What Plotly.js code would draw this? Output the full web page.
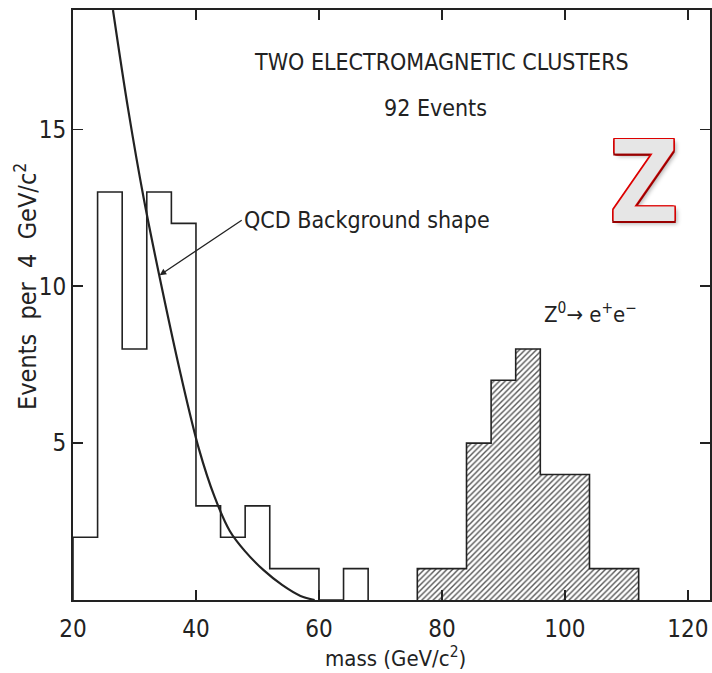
<!DOCTYPE html>
<html><head><meta charset="utf-8">
<script src="https://cdn.plot.ly/plotly-3.0.1.min.js"></script>
<style>html,body{margin:0;padding:0;background:#fff}#chart{width:712px;height:673px}</style>
</head><body><div id="chart"></div>
<script>
// ---- data ----
const binWidth = 4; // GeV/c^2
const bgBinLow = [20, 24, 28, 32, 36, 40, 44, 48, 52, 56, 60, 64];
const bgCounts = [2, 13, 8, 13, 12, 3, 2, 3, 1, 1, 0, 1];
const zBinLow = [76, 80, 84, 88, 92, 96, 100, 104, 108];
const zCounts = [1, 1, 5, 7, 8, 4, 4, 1, 1];
const qcdMass = [26.5, 29, 31.5, 34.5, 37.5, 40.5, 43, 45.5, 48, 51, 54, 57, 59.3];
const qcdEvents = [18.8, 15.6, 12.8, 9.9, 7.2, 4.8, 3.3, 2.2, 1.55, 0.95, 0.48, 0.13, 0];
const xTicks = [20, 40, 60, 80, 100, 120];
const yTicks = [5, 10, 15];

function stepOutline(lows, counts) {
  const x = [lows[0]], y = [0];
  lows.forEach((l, i) => { x.push(l); y.push(counts[i]); });
  x.push(lows[lows.length - 1] + binWidth); y.push(0);
  return {x, y};
}
const bg = stepOutline(bgBinLow, bgCounts);
const zz = stepOutline(zBinLow, zCounts);

const narrow = "DejaVu Sans Condensed, DejaVu Sans, sans-serif";
const ink = "#222";
const nb = "\u00a0";

const traces = [
  {x: bg.x, y: bg.y, type: "scatter", mode: "lines", line: {shape: "hv", color: ink, width: 1.6}, hoverinfo: "skip"},
  {x: zz.x, y: zz.y, type: "scatter", mode: "lines", fill: "tozeroy", fillcolor: "rgba(0,0,0,0)",
   fillpattern: {shape: "/", fgcolor: "#555", bgcolor: "#fff", size: 4, solidity: 0.35, fillmode: "replace"},
   line: {shape: "hv", color: ink, width: 1.6}, hoverinfo: "skip"},
  {x: qcdMass, y: qcdEvents, type: "scatter", mode: "lines", line: {shape: "spline", smoothing: 1, color: ink, width: 2.2}, hoverinfo: "skip"}
];

const layout = {
  width: 712, height: 673,
  margin: {l: 73, r: 2, t: 10, b: 73},
  paper_bgcolor: "#fff", plot_bgcolor: "#fff",
  showlegend: false,
  font: {family: narrow, color: ink, size: 22},
  xaxis: {
    range: [20, 123.6], tickvals: xTicks, ticktext: xTicks.map(String),
    ticks: "inside", ticklen: 10, tickwidth: 1.5, tickcolor: ink,
    showline: true, linecolor: ink, linewidth: 2, mirror: "ticks",
    showgrid: false, zeroline: false, ticklabelstandoff: 6,
    tickfont: {family: narrow, size: 24, color: ink}
  },
  yaxis: {
    range: [0, 18.8], tickvals: yTicks, ticktext: yTicks.map(String),
    ticks: "inside", ticklen: 10, tickwidth: 1.5, tickcolor: ink,
    showline: true, linecolor: ink, linewidth: 2, mirror: "ticks",
    showgrid: false, zeroline: false,
    tickfont: {family: narrow, size: 24, color: ink}
  },
  annotations: [
    {x: -0.074, y: 0.532, xref: "paper", yref: "paper", xanchor: "center", yanchor: "middle",
     textangle: -90, showarrow: false,
     text: "Events" + nb + nb + "per" + nb + nb + "4" + nb + nb + "GeV/c<sup>2</sup>",
     font: {family: narrow, size: 25, color: ink}},
    {x: 0.507, y: -0.097, xref: "paper", yref: "paper", xanchor: "center", yanchor: "middle",
     showarrow: false, text: "mass (GeV/c<sup>2</sup>)",
     font: {family: narrow, size: 22, color: ink}},
    {x: 80.0, y: 17.13, xref: "x", yref: "y", text: "TWO ELECTROMAGNETIC CLUSTERS", showarrow: false,
     font: {family: narrow, size: 23, color: ink}},
    {x: 78.9, y: 15.67, xref: "x", yref: "y", text: "92 Events", showarrow: false,
     font: {family: narrow, size: 23, color: ink}},
    {x: 34.1, y: 10.35, xref: "x", yref: "y", ax: 82, ay: -55, text: "QCD Background shape", xanchor: "left",
     showarrow: true, arrowhead: 2, arrowsize: 1, arrowwidth: 1.3, arrowcolor: ink,
     font: {family: narrow, size: 23, color: ink}},
    {x: 104.1, y: 9.14, xref: "x", yref: "y", text: "Z<sup>0</sup>\u2192 e<sup>+</sup>e<sup>\u2212</sup>", showarrow: false,
     font: {family: narrow, size: 22, color: ink}},
    {x: 112.8, y: 13.5, xref: "x", yref: "y", text: "<b>Z</b>", showarrow: false,
     font: {family: "Open Sans", size: 114, weight: 700, color: "#e6e6e6",
            shadow: "-1.5px -1.5px 0 #d00, 1.5px -1.5px 0 #d00, -1.5px 1.5px 0 #900, 1.5px 1.5px 0 #900, 0 -1.5px 0 #d00, 0 1.5px 0 #900, -1.5px 0 0 #b00, 1.5px 0 0 #c00, 3px 3px 4px rgba(0,0,0,0.3)"}}
  ]
};
Plotly.newPlot("chart", traces, layout, {staticPlot: true});
</script></body></html>
